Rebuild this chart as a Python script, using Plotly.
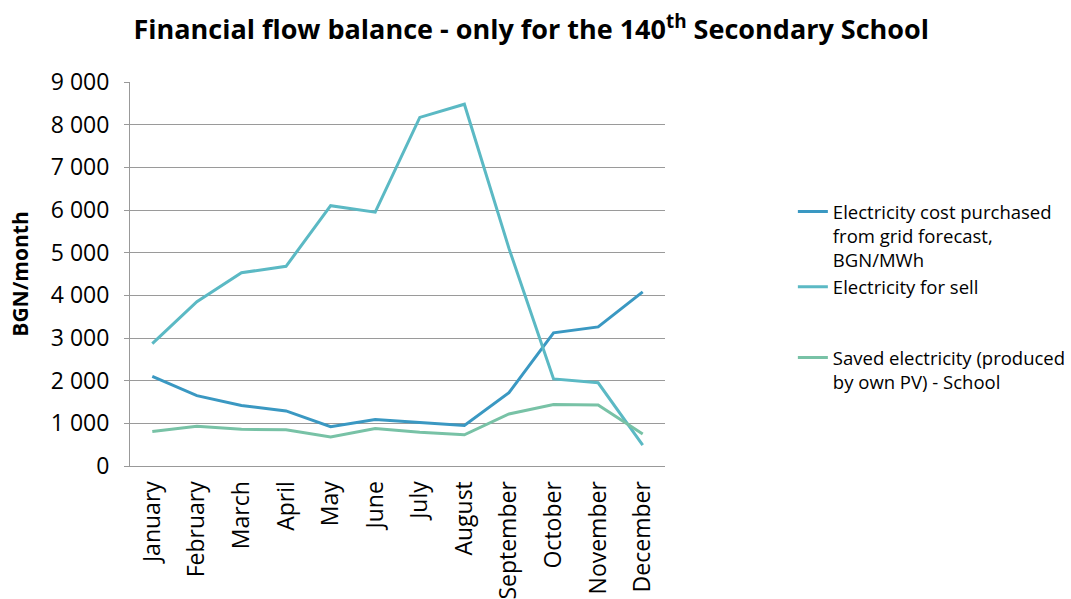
import plotly.graph_objects as go

months = ["January", "February", "March", "April", "May", "June", "July",
          "August", "September", "October", "November", "December"]
grid_cost = [2100, 1650, 1420, 1290, 920, 1090, 1020, 950, 1720, 3120, 3260, 4080]
for_sell = [2870, 3850, 4530, 4680, 6100, 5950, 8170, 8480, 5100, 2040, 1950, 490]
saved = [810, 930, 860, 850, 680, 880, 790, 730, 1220, 1440, 1430, 750]

names = ["Electricity cost purchased<br>from grid forecast,<br>BGN/MWh",
         "Electricity for sell",
         "Saved electricity (produced<br>by own PV) - School"]
colors = ["#3A98C2", "#5BB9C4", "#78C2A6"]
FONT = "Open Sans"

fig = go.Figure()
fig.add_trace(go.Scatter(x=months, y=grid_cost, mode="lines", name=names[0],
                         line=dict(color=colors[0], width=3), legend="legend"))
fig.add_trace(go.Scatter(x=months, y=for_sell, mode="lines", name=names[1],
                         line=dict(color=colors[1], width=3), legend="legend"))
fig.add_trace(go.Scatter(x=months, y=saved, mode="lines", name=names[2],
                         line=dict(color=colors[2], width=3), legend="legend2"))

legend_common = dict(xanchor="left", yanchor="top", valign="top",
                     font=dict(family=FONT, size=18.5, color="#000"),
                     bgcolor="rgba(0,0,0,0)", itemwidth=30, tracegroupgap=0)

fig.update_layout(
    width=1071, height=599,
    margin=dict(l=130, r=406, t=82, b=133, autoexpand=False),
    paper_bgcolor="white", plot_bgcolor="white",
    separators=". ",
    font=dict(family=FONT, color="#000"),
    title=dict(text="<b>Financial flow balance - only for the 140<sup>th</sup> Secondary School</b>",
               x=0.496, xref="container", xanchor="center",
               y=0.95, yref="container", yanchor="middle",
               font=dict(family=FONT, size=27, color="#000")),
    xaxis=dict(type="category", tickangle=-90, showgrid=False,
               showline=True, linecolor="#999", linewidth=1,
               ticks="", tickfont=dict(family=FONT, size=23, color="#000"),
               ticklabelstandoff=5, automargin=False,
               range=[-0.5, 11.5]),
    yaxis=dict(range=[0, 9000], dtick=1000, tickformat=",d",
               showgrid=True, gridcolor="#9A9A9A", gridwidth=1,
               showline=True, linecolor="#999", linewidth=1,
               ticks="outside", ticklen=5, tickcolor="#999",
               tickfont=dict(family=FONT, size=23, color="#000"),
               ticklabelstandoff=10, automargin=False,
               zeroline=False,
               title=dict(text="<b>BGN/month</b>", standoff=16,
                          font=dict(family=FONT, size=21, color="#000"))),
    legend=dict(x=1.239, y=0.711, **legend_common),
    legend2=dict(x=1.239, y=0.331, **legend_common),
)

fig.write_html("out.html")
